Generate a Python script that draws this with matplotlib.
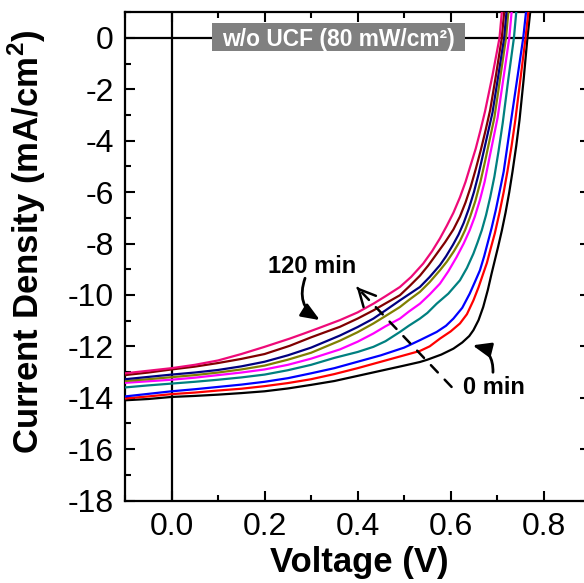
import matplotlib
matplotlib.use("Agg")
import matplotlib.pyplot as plt
from matplotlib.ticker import MultipleLocator, FormatStrFormatter
from matplotlib.patches import Rectangle

plt.rcParams['font.family'] = ['Liberation Sans', 'DejaVu Sans']
plt.rcParams['axes.unicode_minus'] = False
plt.rcParams['mathtext.fontset'] = 'custom'
plt.rcParams['mathtext.rm'] = 'Liberation Sans'
plt.rcParams['mathtext.bf'] = 'Liberation Sans:bold'

# ---- data ----
# 0 min (black)
v_0 = [-0.1, -0.05, 0.0, 0.05, 0.1, 0.15, 0.2, 0.25, 0.3, 0.35, 0.4, 0.45, 0.5, 0.534, 0.55, 0.58, 0.606,
       0.625, 0.64, 0.649, 0.66, 0.67, 0.68, 0.688, 0.695, 0.702, 0.71, 0.718, 0.726, 0.733, 0.741, 0.748,
       0.757, 0.765, 0.771]
j_0 = [-14.10, -14.05, -13.97, -13.93, -13.88, -13.82, -13.75, -13.64, -13.50, -13.35, -13.15, -12.95,
       -12.75, -12.61, -12.52, -12.32, -12.09, -11.85, -11.6, -11.37, -10.98, -10.47, -9.8, -9.17, -8.65,
       -8.13, -7.5, -6.8, -6.0, -5.2, -4.2, -3.2, -1.6, 0.0, 1.0]
# red
v_1 = [-0.1, -0.05, 0.0, 0.05, 0.1, 0.15, 0.2, 0.25, 0.3, 0.35, 0.4, 0.45, 0.5, 0.534, 0.555, 0.577, 0.60,
       0.62, 0.635, 0.649, 0.66, 0.67, 0.678, 0.686, 0.695, 0.705, 0.714, 0.722, 0.731, 0.739, 0.750, 0.761,
       0.767]
j_1 = [-14.03, -13.95, -13.86, -13.80, -13.72, -13.65, -13.55, -13.43, -13.28, -13.08, -12.85, -12.60,
       -12.35, -12.18, -12.0, -11.70, -11.42, -11.11, -10.75, -10.21, -9.7, -9.17, -8.75, -8.2, -7.6, -6.8,
       -6.0, -5.2, -4.2, -3.2, -1.6, 0.0, 1.0]
# blue
v_2 = [-0.1, -0.05, 0.0, 0.05, 0.1, 0.15, 0.2, 0.25, 0.3, 0.35, 0.4, 0.45, 0.5, 0.534, 0.570, 0.59, 0.606,
       0.625, 0.641, 0.652, 0.663, 0.672, 0.68, 0.688, 0.697, 0.705, 0.714, 0.722, 0.730, 0.743, 0.756, 0.762]
j_2 = [-13.95, -13.85, -13.75, -13.67, -13.58, -13.49, -13.38, -13.24, -13.05, -12.85, -12.60, -12.35,
       -12.05, -11.76, -11.44, -11.2, -10.92, -10.5, -9.95, -9.5, -9.04, -8.5, -7.95, -7.4, -6.7, -6.0, -5.2,
       -4.2, -3.2, -1.6, 0.0, 1.0]
# teal
v_3 = [-0.1, -0.05, 0.0, 0.05, 0.1, 0.15, 0.2, 0.25, 0.3, 0.35, 0.4, 0.434, 0.46, 0.491, 0.51, 0.534, 0.55,
       0.570, 0.595, 0.620, 0.635, 0.649, 0.658, 0.667, 0.676, 0.685, 0.694, 0.703, 0.712, 0.724, 0.736, 0.741]
j_3 = [-13.60, -13.52, -13.45, -13.38, -13.30, -13.21, -13.10, -12.93, -12.72, -12.45, -12.22, -12.02,
       -11.8, -11.44, -11.2, -10.92, -10.7, -10.34, -9.95, -9.43, -8.95, -8.39, -7.95, -7.48, -6.9, -6.2,
       -5.4, -4.4, -3.3, -1.6, 0.0, 1.0]
# magenta
v_4 = [-0.1, -0.05, 0.0, 0.05, 0.1, 0.15, 0.2, 0.25, 0.3, 0.362, 0.40, 0.434, 0.46, 0.491, 0.51, 0.534,
       0.555, 0.577, 0.595, 0.613, 0.628, 0.641, 0.652, 0.663, 0.673, 0.683, 0.692, 0.701, 0.714, 0.726, 0.731]
j_4 = [-13.42, -13.36, -13.30, -13.22, -13.12, -13.02, -12.90, -12.72, -12.48, -12.12, -11.82, -11.50,
       -11.22, -10.92, -10.65, -10.34, -9.98, -9.56, -9.08, -8.52, -8.0, -7.48, -6.95, -6.3, -5.6, -4.7,
       -3.9, -3.1, -1.5, 0.0, 1.0]
# olive
v_5 = [-0.1, -0.05, 0.0, 0.05, 0.1, 0.15, 0.2, 0.25, 0.3, 0.362, 0.40, 0.434, 0.46, 0.491, 0.51, 0.534,
       0.555, 0.577, 0.592, 0.607, 0.62, 0.631, 0.642, 0.653, 0.664, 0.674, 0.684, 0.694, 0.707, 0.719, 0.724]
j_5 = [-13.35, -13.28, -13.20, -13.12, -13.02, -12.90, -12.75, -12.52, -12.25, -11.78, -11.45, -11.11,
       -10.82, -10.47, -10.2, -9.88, -9.5, -9.04, -8.7, -8.30, -7.9, -7.48, -6.95, -6.35, -5.6, -4.8, -3.95,
       -3.1, -1.5, 0.0, 1.0]
# navy
v_6 = [-0.1, -0.05, 0.0, 0.05, 0.1, 0.15, 0.2, 0.25, 0.3, 0.362, 0.40, 0.434, 0.46, 0.491, 0.51, 0.534,
       0.555, 0.577, 0.590, 0.605, 0.617, 0.628, 0.639, 0.650, 0.660, 0.670, 0.680, 0.690, 0.703, 0.715, 0.720]
j_6 = [-13.28, -13.19, -13.10, -13.02, -12.92, -12.78, -12.60, -12.35, -12.05, -11.58, -11.25, -10.92,
       -10.6, -10.21, -9.98, -9.69, -9.3, -8.84, -8.5, -8.05, -7.65, -7.2, -6.65, -6.0, -5.3, -4.5, -3.7,
       -2.9, -1.4, 0.0, 1.0]
# maroon
v_7 = [-0.1, -0.05, 0.0, 0.05, 0.1, 0.15, 0.2, 0.254, 0.3, 0.33, 0.362, 0.40, 0.434, 0.46, 0.491, 0.512,
       0.534, 0.552, 0.570, 0.588, 0.606, 0.62, 0.632, 0.643, 0.654, 0.665, 0.675, 0.685, 0.697, 0.710, 0.715]
j_7 = [-13.12, -13.02, -12.90, -12.79, -12.65, -12.49, -12.30, -11.98, -11.65, -11.45, -11.24, -10.92,
       -10.60, -10.33, -10.01, -9.65, -9.25, -8.85, -8.40, -7.95, -7.45, -6.95, -6.4, -5.8, -5.1, -4.35,
       -3.6, -2.8, -1.5, 0.0, 1.0]
# 120 min (pink)
v_8 = [-0.1, -0.05, 0.0, 0.05, 0.1, 0.15, 0.2, 0.254, 0.285, 0.315, 0.34, 0.362, 0.40, 0.434, 0.46, 0.491,
       0.515, 0.541, 0.56, 0.577, 0.592, 0.606, 0.62, 0.632, 0.643, 0.654, 0.664, 0.674, 0.690, 0.705, 0.710]
j_8 = [-13.05, -12.95, -12.85, -12.72, -12.55, -12.30, -12.02, -11.70, -11.50, -11.30, -11.13, -10.98,
       -10.68, -10.34, -10.05, -9.69, -9.3, -8.78, -8.3, -7.8, -7.3, -6.8, -6.2, -5.6, -4.95, -4.3, -3.6,
       -2.85, -1.45, 0.0, 1.0]

series_v = [v_0, v_1, v_2, v_3, v_4, v_5, v_6, v_7, v_8]
series_j = [j_0, j_1, j_2, j_3, j_4, j_5, j_6, j_7, j_8]
colors = ['#000000', '#FF0000', '#0000FF', '#008080', '#FF00FF', '#808000', '#000080', '#800000', '#EE0A78']

x_ticks = [0.0, 0.2, 0.4, 0.6, 0.8]
y_ticks = [0, -2, -4, -6, -8, -10, -12, -14, -16, -18]

# ---- figure ----
fig = plt.figure(figsize=(5.84, 5.83), dpi=100)
W, H = 584.0, 583.0
left_px, right_px, top_px, bot_px = 125.0, 590.2, 12.3, 500.5
ax = fig.add_axes([left_px / W, 1 - bot_px / H, (right_px - left_px) / W, (bot_px - top_px) / H])

ax.axhline(0, color='black', lw=1.6, zorder=1)
ax.axvline(0, color='black', lw=1.6, zorder=1)

for v, j, c in zip(series_v, series_j, colors):
    ax.plot(v, j, color=c, lw=1.6, zorder=3, solid_joinstyle='round')

ax.set_xlim(-0.1, 0.9)
ax.set_ylim(-18, 1)

ax.xaxis.set_minor_locator(MultipleLocator(0.1))
ax.yaxis.set_minor_locator(MultipleLocator(1))
ax.set_xticks(x_ticks)
ax.set_yticks(y_ticks)
ax.xaxis.set_major_formatter(FormatStrFormatter('%.1f'))
ax.yaxis.set_major_formatter(FormatStrFormatter('%d'))

ax.tick_params(which='both', direction='in', top=True, right=True, width=1.5)
ax.tick_params(which='major', length=7)
ax.tick_params(which='minor', length=4)
ax.tick_params(axis='both', labelsize=23)
ax.tick_params(axis='y', pad=8)
ax.tick_params(axis='x', pad=8)

for s in ax.spines.values():
    s.set_linewidth(1.6)

ax.set_xlabel('Voltage (V)', fontsize=25, fontweight='bold')
ax.set_ylabel(r'Current Density (mA/cm$^\mathbf{2}$)', fontsize=25, fontweight='bold')
ax.xaxis.set_label_coords(0.503, -0.094)
ax.yaxis.set_label_coords(-0.165, 0.53)

# grey title box
ax.add_patch(Rectangle((0.187, 0.9207), 0.544, 0.0573, transform=ax.transAxes,
                       facecolor='#808080', edgecolor='none', zorder=4))
ax.text(0.4587, 0.9316, 'w/o UCF (80 mW/cm²)', transform=ax.transAxes, ha='center', va='baseline',
        fontsize=16.4, fontweight='bold', color='white', zorder=5)

# annotations
ax.text(0.303, -9.13, '120 min', ha='center', va='baseline', fontsize=17, fontweight='bold', zorder=5)
ax.text(0.692, -13.87, '0 min', ha='center', va='baseline', fontsize=17, fontweight='bold', zorder=5)

head = '-|>,head_length=0.55,head_width=0.22'
ax.annotate('', xy=(0.319, -10.98), xytext=(0.287, -9.35),
            arrowprops=dict(arrowstyle=head, mutation_scale=20,
                            connectionstyle='arc3,rad=0.4', color='black', lw=2,
                            shrinkA=0, shrinkB=0), zorder=5)
ax.annotate('', xy=(0.647, -11.96), xytext=(0.691, -13.01),
            arrowprops=dict(arrowstyle=head, mutation_scale=20,
                            connectionstyle='arc3,rad=0.4', color='black', lw=2,
                            shrinkA=0, shrinkB=0), zorder=5)

# dashed trend arrow
tail = (0.602, -13.58)
tip = (0.398, -9.69)
ax.annotate('', xy=tip, xytext=tail,
            arrowprops=dict(arrowstyle='-', color='black', lw=1.8, linestyle=(0, (4.0, 4.0)),
                            shrinkA=0, shrinkB=0), zorder=6)
ax.annotate('', xy=tip, xytext=(0.40, -9.73),
            arrowprops=dict(arrowstyle='->,head_length=0.6,head_width=0.3', mutation_scale=20,
                            color='black', lw=1.8, shrinkA=0, shrinkB=0), zorder=6)

fig.savefig('out.png', dpi=100)
